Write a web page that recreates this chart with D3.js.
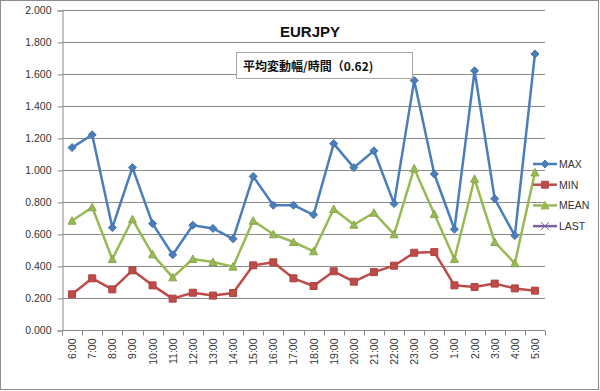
<!DOCTYPE html>
<html>
<head>
<meta charset="utf-8">
<script src="https://cdn.jsdelivr.net/npm/d3@7"></script>
<style>
  body { margin: 0; background: #fff; }
  svg { display: block; font-family: "Liberation Sans", "DejaVu Sans", sans-serif; }
</style>
</head>
<body>
<svg id="chart"></svg>
<script>
const width = 600;
const height = 391;

// data
const hours = ["6:00","7:00","8:00","9:00","10:00","11:00","12:00","13:00","14:00","15:00","16:00","17:00",
    "18:00","19:00","20:00","21:00","22:00","23:00","0:00","1:00","2:00","3:00","4:00","5:00"];
const maxValues = [1.14,1.22,0.64,1.015,0.665,0.47,0.655,0.635,0.57,0.96,0.78,0.78,
    0.72,1.165,1.015,1.12,0.79,1.56,0.975,0.63,1.62,0.82,0.59,1.725];
const minValues = [0.223,0.323,0.254,0.373,0.279,0.196,0.233,0.215,0.231,0.404,0.423,0.323,
    0.275,0.367,0.302,0.362,0.402,0.483,0.487,0.279,0.269,0.29,0.26,0.246];
const meanValues = [0.683,0.767,0.444,0.692,0.473,0.329,0.444,0.425,0.396,0.683,0.598,0.55,
    0.492,0.756,0.658,0.733,0.598,1.01,0.725,0.444,0.945,0.55,0.417,0.985];
const lastValues = []; // legend only, no points
const yTicks = [0, 0.2, 0.4, 0.6, 0.8, 1.0, 1.2, 1.4, 1.6, 1.8, 2.0];

const series = [
    { name: "MAX", values: maxValues, color: "#4a7ebb", marker: "diamond" },
    { name: "MIN", values: minValues, color: "#be4b48", marker: "square" },
    { name: "MEAN", values: meanValues, color: "#98b954", marker: "triangle" },
    { name: "LAST", values: lastValues, color: "#7d60a0", marker: "cross" }
];

const margin = { top: 10, right: 55, bottom: 61, left: 62 };

const svg = d3.select("#chart")
    .attr("width", width)
    .attr("height", height);

// outer frame
svg.append("rect")
    .attr("x", 0.5).attr("y", 0.5)
    .attr("width", width - 2).attr("height", height - 2)
    .attr("fill", "#fff")
    .attr("stroke", "#8c8c8c");

const x = d3.scaleBand()
    .domain(hours)
    .range([margin.left, width - margin.right]);

const y = d3.scaleLinear()
    .domain([0, 2])
    .range([height - margin.bottom, margin.top]);

const cx = d => x(d) + x.bandwidth() / 2;

// gridlines
svg.append("g")
    .selectAll("line")
    .data(yTicks.filter(d => d > 0))
    .enter().append("line")
    .attr("x1", margin.left).attr("x2", width - margin.right)
    .attr("y1", d => Math.round(y(d)) + 0.5)
    .attr("y2", d => Math.round(y(d)) + 0.5)
    .attr("stroke", "#8a8a8a")
    .attr("stroke-width", 1);

// y axis
const yAxis = svg.append("g")
    .attr("transform", `translate(${margin.left + 0.5},0.5)`)
    .call(d3.axisLeft(y).tickValues(yTicks).tickFormat(d3.format(".3f")).tickSize(5).tickPadding(6));
yAxis.select(".domain").attr("stroke", "#8a8a8a");
yAxis.selectAll(".tick line").attr("stroke", "#8a8a8a");
yAxis.selectAll("text").attr("font-size", "10.5px").attr("fill", "#333");

// x axis, ticks between categories
const xAxis = svg.append("g")
    .attr("transform", `translate(0,${height - margin.bottom + 0.5})`);
xAxis.append("line")
    .attr("x1", margin.left).attr("x2", width - margin.right)
    .attr("stroke", "#8a8a8a");
xAxis.selectAll(".tk")
    .data(hours.concat(["end"]))
    .enter().append("line")
    .attr("class", "tk")
    .attr("x1", (d, i) => Math.round(margin.left + i * x.step()) + 0.5)
    .attr("x2", (d, i) => Math.round(margin.left + i * x.step()) + 0.5)
    .attr("y1", 0).attr("y2", 5)
    .attr("stroke", "#8a8a8a");
xAxis.selectAll("text")
    .data(hours)
    .enter().append("text")
    .attr("transform", d => `translate(${cx(d) + 4},8) rotate(-90)`)
    .attr("text-anchor", "end")
    .attr("font-size", "10.5px")
    .attr("fill", "#333")
    .text(d => d);

// markers
function markerPath(type) {
    if (type === "diamond") return "M0,-4L4,0L0,4L-4,0Z";
    if (type === "square") return "M-3.5,-3.5H3.5V3.5H-3.5Z";
    if (type === "triangle") return "M0,-4L4,3.5H-4Z";
    return "M-4,-4L4,4M-4,4L4,-4";
}

const line = d3.line()
    .x((d, i) => cx(hours[i]))
    .y(d => y(d));

series.forEach(s => {
    if (!s.values.length) return;
    const g = svg.append("g");
    g.append("path")
        .datum(s.values)
        .attr("d", line)
        .attr("fill", "none")
        .attr("stroke", s.color)
        .attr("stroke-width", 2.5)
        .attr("stroke-linejoin", "round");
    g.selectAll("path.m")
        .data(s.values)
        .enter().append("path")
        .attr("class", "m")
        .attr("d", markerPath(s.marker))
        .attr("transform", (d, i) => `translate(${cx(hours[i])},${y(d)})`)
        .attr("fill", s.color)
        .attr("stroke", d3.color(s.color).darker(0.3));
});

// title
svg.append("text")
    .attr("x", 310).attr("y", 37)
    .attr("text-anchor", "middle")
    .attr("font-size", "15px")
    .attr("font-weight", "bold")
    .attr("fill", "#111")
    .text("EURJPY");

// note box
svg.append("rect")
    .attr("x", 236.5).attr("y", 52.5)
    .attr("width", 176).attr("height", 26)
    .attr("fill", "#fff")
    .attr("stroke", "#a6a6a6");
svg.append("text")
    .attr("x", 243).attr("y", 71)
    .attr("font-family", "'Noto Sans CJK JP', sans-serif")
    .attr("font-size", "12px")
    .attr("font-weight", "bold")
    .attr("fill", "#111")
    .text("平均変動幅/時間（0.62)");

// legend
const legend = svg.append("g")
    .selectAll("g")
    .data(series)
    .enter().append("g")
    .attr("transform", (d, i) => `translate(533,${164 + i * 20.7})`);
legend.append("line")
    .attr("x1", 0).attr("x2", 24)
    .attr("stroke", d => d.color)
    .attr("stroke-width", 2.5);
legend.append("path")
    .attr("d", d => markerPath(d.marker))
    .attr("transform", "translate(12,0)")
    .attr("fill", d => d.color)
    .attr("stroke", d => d.color);
legend.append("text")
    .attr("x", 26).attr("y", 4)
    .attr("font-size", "10.5px")
    .attr("fill", "#333")
    .text(d => d.name);
</script>
</body>
</html>
